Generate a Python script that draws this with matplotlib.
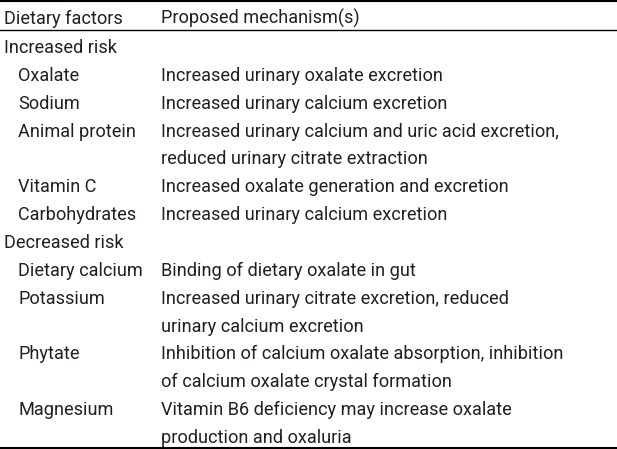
import matplotlib
matplotlib.use('Agg')
import matplotlib.pyplot as plt

# Table content
headers = ['Dietary factors', 'Proposed mechanism(s)']
groups = ['Increased risk', 'Decreased risk']
increased_factors = ['Oxalate', 'Sodium', 'Animal protein', 'Vitamin C', 'Carbohydrates']
increased_mechanisms = [
    'Increased urinary oxalate excretion',
    'Increased urinary calcium excretion',
    'Increased urinary calcium and uric acid excretion,\nreduced urinary citrate extraction',
    'Increased oxalate generation and excretion',
    'Increased urinary calcium excretion',
]
decreased_factors = ['Dietary calcium', 'Potassium', 'Phytate', 'Magnesium']
decreased_mechanisms = [
    'Binding of dietary oxalate in gut',
    'Increased urinary citrate excretion, reduced\nurinary calcium excretion',
    'Inhibition of calcium oxalate absorption, inhibition\nof calcium oxalate crystal formation',
    'Vitamin B6 deficiency may increase oxalate\nproduction and oxaluria',
]

plt.rcParams['font.family'] = ['Roboto', 'DejaVu Sans']

fig = plt.figure(figsize=(6.17, 4.49), dpi=100)
ax = fig.add_axes([0, 0, 1, 1])
ax.set_xlim(0, 617)
ax.set_ylim(449, 0)
ax.axis('off')

fs = 13.1
color = '#231f20'
line_h = 27.86
col1_x, item_x, col2_x = 4, 18, 161

# rules
ax.plot([0, 617], [1, 1], color='black', lw=1.5)
ax.plot([0, 617], [30, 30], color='black', lw=1)
ax.plot([0, 617], [447.5, 447.5], color='black', lw=1.5)

ax.text(col1_x, 24, headers[0], fontsize=fs, color=color, va='baseline')
ax.text(col2_x, 24, headers[1], fontsize=fs, color=color, va='baseline')

y = 53
for group, factors, mechs in [(groups[0], increased_factors, increased_mechanisms),
                              (groups[1], decreased_factors, decreased_mechanisms)]:
    ax.text(col1_x, y, group, fontsize=fs, color=color, va='baseline')
    y += line_h
    for fac, mech in zip(factors, mechs):
        ax.text(item_x, y, fac, fontsize=fs, color=color, va='baseline')
        for i, part in enumerate(mech.split('\n')):
            ax.text(col2_x, y + i * line_h, part, fontsize=fs, color=color, va='baseline')
        y += line_h * len(mech.split('\n'))

fig.savefig('out.png', dpi=100)
